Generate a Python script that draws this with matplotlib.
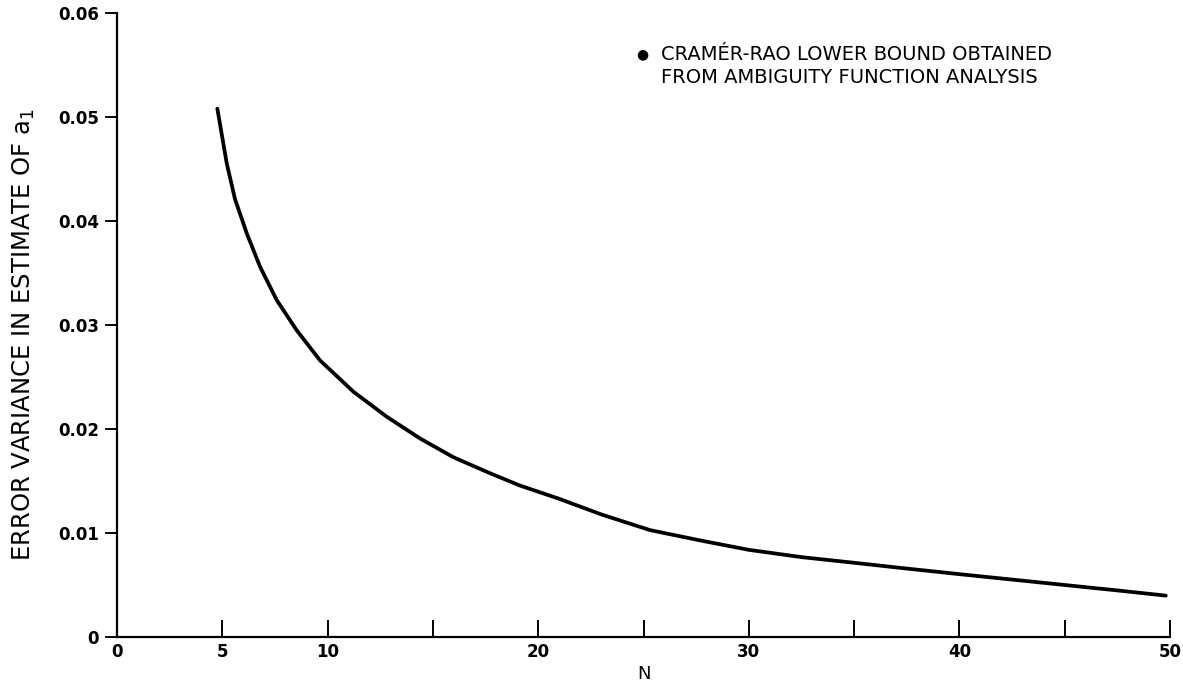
import matplotlib.pyplot as plt

# values
n_values = [4.76, 5.21, 5.6, 6.16, 6.79, 7.58, 8.53, 9.64, 10.59, 11.22,
            12.8, 14.39, 15.97, 17.55, 19.1, 21.0, 23.0, 25.3, 27.7, 30.0,
            32.5, 34.8, 37.5, 40.3, 42.7, 45.1, 47.5, 49.8]
error_var = [0.0508, 0.0455, 0.0421, 0.0388, 0.0356, 0.0324, 0.0295, 0.0266,
             0.0248, 0.0236, 0.0212, 0.0191, 0.0173, 0.0159, 0.0146, 0.0133,
             0.0118, 0.0103, 0.0093, 0.0084, 0.0077, 0.0072, 0.0066, 0.0060,
             0.0055, 0.0050, 0.0045, 0.0040]

x_ticks = [0, 5, 10, 15, 20, 25, 30, 35, 40, 45, 50]
x_tick_labels = ["0", "5", "10", "", "20", "", "30", "", "40", "", "50"]
y_ticks = [0, 0.01, 0.02, 0.03, 0.04, 0.05, 0.06]
y_tick_labels = ["0", "0.01", "0.02", "0.03", "0.04", "0.05", "0.06"]

legend_lines = ["CRAMÉR-RAO LOWER BOUND OBTAINED",
                "FROM AMBIGUITY FUNCTION ANALYSIS"]

plt.rcParams["font.family"] = ["DejaVu Sans"]

fig = plt.figure(figsize=(11.83, 6.83), dpi=100)
ax = fig.add_axes([0.099, 0.067, 0.890, 0.914])

ax.plot(n_values, error_var, color="black", linewidth=2.7,
        solid_capstyle="round", solid_joinstyle="round")

ax.set_xlim(0, 50)
ax.set_ylim(0, 0.06)
for side in ("top", "right"):
    ax.spines[side].set_visible(False)
for side in ("left", "bottom"):
    ax.spines[side].set_linewidth(1.6)

ax.set_xticks(x_ticks)
ax.set_xticklabels(x_tick_labels, fontsize=12, fontweight="bold")
ax.set_yticks(y_ticks)
ax.set_yticklabels(y_tick_labels, fontsize=12, fontweight="bold")
ax.tick_params(axis="x", direction="in", length=12, width=1.4, pad=4)
ax.tick_params(axis="y", direction="out", length=9, width=1.4, pad=4)

ax.set_xlabel("N", fontsize=13, labelpad=3)
ax.set_ylabel("ERROR VARIANCE IN ESTIMATE OF $\\mathregular{a_1}$",
              fontsize=17.5)
ax.yaxis.set_label_coords(-0.076, 0.484)

fig.text(0.543, 0.920, "\u25CF", fontsize=10, va="center", ha="center")
fig.text(0.559, 0.920, legend_lines[0], fontsize=14, va="center")
fig.text(0.559, 0.886, legend_lines[1], fontsize=14, va="center")

fig.savefig("out.png", dpi=100)
plt.close(fig)
